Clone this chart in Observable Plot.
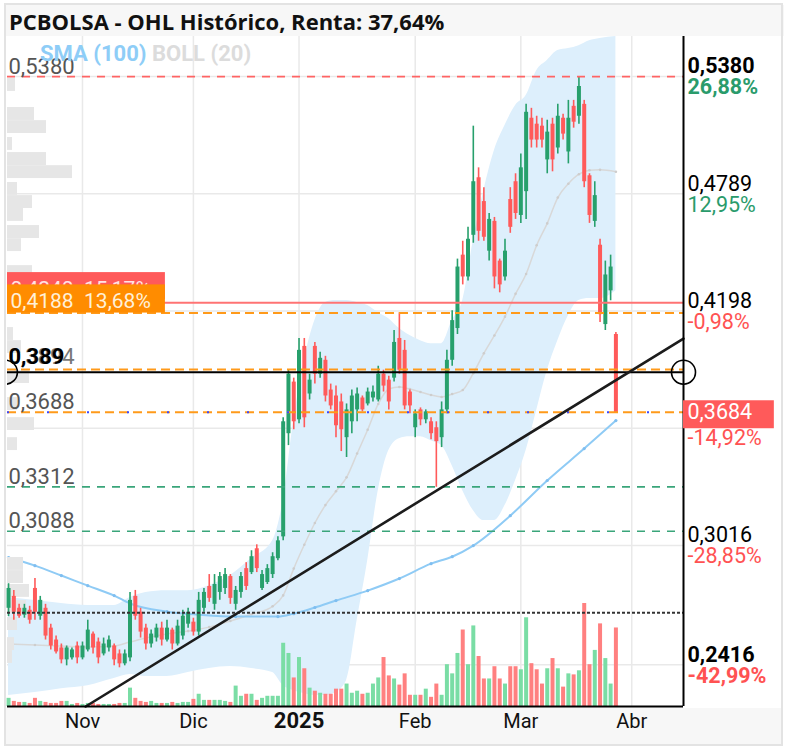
<!DOCTYPE html>
<html><head><meta charset="utf-8">
<script src="https://cdn.jsdelivr.net/npm/d3@7"></script>
<script src="https://cdn.jsdelivr.net/npm/@observablehq/plot@0.6"></script>
<style>
body{margin:0;background:#fff;font-family:Roboto,"Noto Sans",sans-serif;}
#wrap{position:relative;width:786px;height:748px;overflow:hidden;background:#fff;}
#border{position:absolute;left:4px;top:3px;width:779px;height:743px;box-sizing:border-box;border:2px solid #e3e3e3;}
#title{position:absolute;left:6px;top:5px;width:775px;height:31px;background:#f7f7f7;font-family:"Open Sans",Roboto,sans-serif;font-weight:bold;font-size:22px;color:#111;padding-left:3px;line-height:32px;white-space:nowrap;}
#band{position:absolute;left:6px;top:708px;width:775px;height:36px;background:#f7f7f7;}
#chart{position:absolute;left:0;top:36px;width:786px;height:712px;}
#chart svg{position:absolute;left:0;top:0;}
#legend{position:absolute;left:40px;top:42px;font-weight:bold;font-size:22px;white-space:nowrap;line-height:1.1;}
</style></head>
<body>
<div id="wrap">
  <div id="title">PCBOLSA - OHL Histórico, Renta: 37,64%</div>
  <div id="band"></div>
  <div id="chart"></div>
  <div id="legend"><span style="color:#8ecdf7">SMA (100)</span> <span style="color:#dcdcdc">BOLL (20)</span></div>
  <div id="border"></div>
</div>
<script>
// ---- daily OHLC (trading-day index 0 = 14 Oct 2024 ... 115 = 27 Mar 2025)
const open = [
0.2700,0.2760,0.2700,0.2665,0.2690,0.2800,0.2660,0.2700,0.2600,0.2540,
0.2500,0.2440,0.2450,0.2510,0.2450,0.2490,0.2570,0.2530,0.2470,0.2500,
0.2510,0.2470,0.2420,0.2450,0.2760,0.2680,0.2600,0.2520,0.2550,0.2600,
0.2540,0.2590,0.2520,0.2560,0.2620,0.2630,0.2580,0.2700,0.2810,0.2720,
0.2780,0.2800,0.2860,0.2720,0.2780,0.2900,0.2880,0.3000,0.2800,0.2830,
0.2870,0.2950,0.3060,0.3580,0.3840,0.3650,0.4020,0.3780,0.4020,0.3880,
0.3950,0.3800,0.3770,0.3740,0.3560,0.3640,0.3700,0.3760,0.3730,0.3760,
0.3750,0.3880,0.3850,0.3860,0.4060,0.4000,0.3790,0.3610,0.3700,0.3650,
0.3640,0.3610,0.3560,0.3700,0.3950,0.4110,0.4480,0.4370,0.4580,0.4870,
0.4750,0.4500,0.4650,0.4450,0.4370,0.4760,0.4850,0.4680,0.4800,0.5170,
0.5140,0.5130,0.4960,0.5140,0.5020,0.5170,0.5000,0.5230,0.5180,0.5240,
0.4880,0.4650,0.4530,0.4130,0.4300,0.4080];
const high = [
0.2824,0.2790,0.2720,0.2720,0.2710,0.2850,0.2760,0.2720,0.2620,0.2560,
0.2520,0.2510,0.2500,0.2530,0.2530,0.2640,0.2580,0.2550,0.2550,0.2560,
0.2520,0.2490,0.2490,0.2780,0.2790,0.2700,0.2620,0.2590,0.2620,0.2630,
0.2640,0.2600,0.2640,0.2690,0.2700,0.2650,0.2780,0.2800,0.2870,0.2870,
0.2880,0.2900,0.2870,0.2810,0.2880,0.2930,0.2990,0.3020,0.2890,0.2920,
0.2980,0.3060,0.3660,0.3900,0.3860,0.4060,0.4060,0.3880,0.4040,0.3990,
0.3970,0.3830,0.3820,0.3780,0.3730,0.3800,0.3810,0.3770,0.3810,0.3820,
0.3920,0.3900,0.3870,0.4100,0.4190,0.4050,0.3800,0.3700,0.3710,0.3700,
0.3660,0.3640,0.3740,0.4000,0.4200,0.4460,0.4550,0.4620,0.5130,0.4920,
0.4820,0.4690,0.4670,0.4460,0.4560,0.4820,0.4890,0.4990,0.5240,0.5220,
0.5180,0.5170,0.5160,0.5170,0.5240,0.5190,0.5260,0.5260,0.5380,0.5260,
0.4890,0.4850,0.4560,0.4450,0.4480,0.4090];
const low = [
0.2658,0.2640,0.2650,0.2650,0.2620,0.2640,0.2640,0.2540,0.2490,0.2470,
0.2420,0.2410,0.2440,0.2420,0.2440,0.2480,0.2470,0.2420,0.2460,0.2480,
0.2410,0.2400,0.2410,0.2430,0.2640,0.2550,0.2490,0.2500,0.2530,0.2510,
0.2530,0.2490,0.2510,0.2540,0.2600,0.2560,0.2560,0.2680,0.2730,0.2690,
0.2740,0.2770,0.2720,0.2690,0.2750,0.2790,0.2870,0.2880,0.2790,0.2820,
0.2850,0.2940,0.3040,0.3520,0.3600,0.3630,0.3610,0.3750,0.3830,0.3860,
0.3740,0.3700,0.3560,0.3490,0.3460,0.3580,0.3640,0.3690,0.3720,0.3740,
0.3740,0.3790,0.3700,0.3840,0.3880,0.3700,0.3680,0.3560,0.3620,0.3630,
0.3550,0.3310,0.3510,0.3680,0.3920,0.4080,0.4330,0.4350,0.4540,0.4550,
0.4550,0.4450,0.4310,0.4290,0.4350,0.4590,0.4660,0.4640,0.4660,0.5020,
0.5020,0.5020,0.4890,0.4900,0.4990,0.5060,0.4940,0.5120,0.5140,0.4820,
0.4640,0.4620,0.4140,0.4100,0.4250,0.3684];
const close = [
0.2800,0.2680,0.2660,0.2700,0.2640,0.2680,0.2740,0.2560,0.2510,0.2480,
0.2440,0.2500,0.2490,0.2450,0.2510,0.2590,0.2500,0.2450,0.2520,0.2540,
0.2440,0.2420,0.2470,0.2740,0.2660,0.2580,0.2520,0.2570,0.2600,0.2540,
0.2600,0.2520,0.2610,0.2660,0.2680,0.2580,0.2740,0.2780,0.2750,0.2820,
0.2860,0.2870,0.2750,0.2790,0.2860,0.2810,0.2960,0.2900,0.2870,0.2900,
0.2960,0.3040,0.3640,0.3880,0.3640,0.4000,0.3660,0.3850,0.3880,0.3960,
0.3770,0.3720,0.3620,0.3600,0.3700,0.3770,0.3780,0.3700,0.3790,0.3790,
0.3880,0.3820,0.3740,0.4040,0.3900,0.3720,0.3720,0.3680,0.3650,0.3690,
0.3580,0.3540,0.3700,0.3950,0.4150,0.4420,0.4370,0.4560,0.4850,0.4600,
0.4570,0.4660,0.4370,0.4330,0.4500,0.4620,0.4690,0.4920,0.5200,0.5060,
0.5060,0.5060,0.5100,0.4960,0.5180,0.5090,0.5170,0.5150,0.5330,0.4850,
0.4680,0.4780,0.4180,0.4380,0.4420,0.3684];
const volume = [
8,5,4,4,3,8,5,4,3,3,
5,5,2,3,2,3,3,2,2,2,
2,3,3,18,8,5,4,5,3,3,
3,4,3,4,4,7,12,6,6,6,
6,5,4,20,10,12,12,6,8,10,
10,10,62,52,28,48,37,18,15,13,
12,12,17,17,22,13,15,12,13,22,
28,48,30,27,21,32,11,11,11,17,
9,22,11,41,32,52,75,41,79,49,
27,27,39,27,22,39,39,36,87,42,
36,22,37,47,37,19,32,31,35,101,
41,55,81,47,22,77];

// ---- Bollinger (20)
const bandIdx = [0,5,10,15,20,23,26,30,34,38,42,46,50,52,54,56,58,60,62,64,66,68,70,72,74,76,78,80,82,84,86,88,90,92,94,96,98,100,102,104,106,108,110,112,115];
const bandUpper = [0.2754,0.2739,0.2724,0.2714,0.2714,0.2754,0.2779,0.2789,0.2789,0.2814,0.2865,0.2951,0.3041,0.3243,0.3646,0.3949,0.4150,0.4241,0.4251,0.4251,0.4241,0.4226,0.4190,0.4160,0.4110,0.4075,0.4049,0.4034,0.4034,0.4150,0.4251,0.4553,0.4805,0.5007,0.5133,0.5234,0.5284,0.5410,0.5461,0.5511,0.5521,0.5536,0.5561,0.5572,0.5582];
const bandMiddle = [0.2520,0.2515,0.2510,0.2505,0.2510,0.2530,0.2550,0.2570,0.2585,0.2605,0.2636,0.2670,0.2710,0.2765,0.2900,0.3020,0.3130,0.3220,0.3290,0.3360,0.3480,0.3600,0.3730,0.3805,0.3815,0.3805,0.3790,0.3775,0.3765,0.3780,0.3800,0.3885,0.3985,0.4075,0.4170,0.4285,0.4385,0.4530,0.4640,0.4770,0.4840,0.4888,0.4908,0.4910,0.4900];
const bandLower = [0.2260,0.2275,0.2295,0.2310,0.2346,0.2366,0.2356,0.2356,0.2376,0.2396,0.2406,0.2396,0.2376,0.2310,0.2285,0.2270,0.2260,0.2260,0.2275,0.2336,0.2638,0.2940,0.3293,0.3495,0.3555,0.3565,0.3565,0.3545,0.3520,0.3419,0.3293,0.3193,0.3142,0.3142,0.3218,0.3344,0.3495,0.3697,0.3898,0.4049,0.4175,0.4251,0.4261,0.4261,0.4301];

// ---- SMA (100)
const smaIdx = [0,5,10,15,20,23,30,36,43,51,54,58,62,68,74,80,84,88,95,102,109,115];
const smaVal = [0.2956,0.2915,0.2865,0.2814,0.2764,0.2724,0.2683,0.2668,0.2658,0.2658,0.2673,0.2704,0.2739,0.2789,0.2850,0.2925,0.2960,0.3016,0.3167,0.3344,0.3505,0.3646];

// ---- volume-at-price profile (bin top price, relative volume)
const profTop = [0.5370,0.5224,0.5158,0.5073,0.4997,0.4931,0.4846,0.4780,0.4715,0.4629,0.4563,0.4427,0.4362,0.4115,0.4049,0.3898,0.3762,0.3661,0.3560,0.2956,0.2890,0.2820,0.2739,0.2653,0.2552,0.2487];
const profVol = [8,27,39,5,39,65,10,25,16,32,14,25,30,6,14,22,10,27,10,16,16,22,19,10,7,5];
const profBin = 0.0065;

// ---- axis ticks
const tickIdx = [14,35,55,77,97,118];
const tickLabel = ["Nov","Dic","2025","Feb","Mar","Abr"];
const gridPrices = [0.5380,0.4789,0.4198,0.3607,0.3016,0.2416];

// ---- right scale labels
const rightPrice = [0.5380,0.4789,0.4198,0.3016,0.2416];
const rightText = ["0,5380","0,4789","0,4198","0,3016","0,2416"];
const rightPct = ["26,88%","12,95%","-0,98%","-28,85%","-42,99%"];
const rightBold = [true,false,false,false,true];
const lastPrice = 0.3684, lastText = "0,3684", lastPct = "-14,92%";

// ---- drawn levels
const redDashed = [0.5380];
const redSolid = [0.4240];
const orangeDashed = [0.4188,0.3904,0.3688];
const blackSolid = [0.389];
const greenDashed = [0.3312,0.3088];
const blackDotted = [0.2678];
const leftLevelText = [{v:0.5380,t:"0,5380"},{v:0.3688,t:"0,3688"},{v:0.3312,t:"0,3312"},{v:0.3088,t:"0,3088"}];
// trend line anchors (trading-day index, price)
const trendI = [14.6,127.8];
const trendV = [0.2205,0.4059];

// ---- build tables
const candles = open.map((o,i)=>({i,o,h:high[i],l:low[i],c:close[i],v:volume[i]}));
const band = bandIdx.map((i,k)=>({i,up:bandUpper[k],mid:bandMiddle[k],lo:bandLower[k]}));
const sma = smaIdx.map((i,k)=>({i,v:smaVal[k]}));
const profile = profTop.map((t,k)=>({hi:t,lo:t-profBin,w:profVol[k]}));
const ticks = tickIdx.map((i,k)=>({i,t:tickLabel[k]}));
const rightLabels = rightPrice.map((v,k)=>({v,t:rightText[k],p:rightPct[k],b:rightBold[k],col:rightPct[k].startsWith("-")?"#ff5252":"#2a9b6b"}));
const trend = trendI.map((i,k)=>({i,v:trendV[k]}));

const X_DOM = [-0.2,127.8], Y_DOM = [0.2205,0.5582];
const GREEN = "#27a06c", RED = "#ff5a5a";
const FONT = "Roboto, 'Noto Sans', sans-serif";
const base = (o)=>Object.assign({width:786,height:712,marginTop:0,marginBottom:42,marginLeft:7,marginRight:103,
  style:{background:"transparent",fontFamily:FONT,overflow:"visible"}},o);
const up = d=>d.c>=d.o;

const chart = document.getElementById("chart");

// Layer 1: grid, Bollinger, SMA
chart.append(Plot.plot(base({
  x:{domain:X_DOM,axis:null}, y:{domain:Y_DOM,axis:null},
  marks:[
    Plot.ruleX(tickIdx,{stroke:"#e9e9e9",strokeWidth:1.5}),
    Plot.ruleY(gridPrices,{stroke:"#e9e9e9",strokeWidth:1.5}),
    Plot.areaY(band,{x:"i",y1:"lo",y2:"up",fill:"#ddeffc",curve:"monotone-x",clip:true}),
    Plot.line(band,{x:"i",y:"mid",stroke:"#d8d8d8",strokeWidth:1.5,curve:"monotone-x"}),
    Plot.dot(band,{x:"i",y:"mid",r:1.3,fill:"#cdcdcd"}),
    Plot.line(sma,{x:"i",y:"v",stroke:"#8fcbf5",strokeWidth:2,curve:"monotone-x"}),
    Plot.dot(sma,{x:"i",y:"v",r:1.6,fill:"#7fbef0"})
  ]
})));

// Layer 2: volume profile
chart.append(Plot.plot(base({
  x:{domain:[0,100],range:[7,107],axis:null}, y:{domain:Y_DOM,axis:null},
  marks:[Plot.rect(profile,{x1:0,x2:"w",y1:"lo",y2:"hi",fill:"#e6e6e6"})]
})));

// Layer 3: volume bars
chart.append(Plot.plot(base({
  x:{domain:X_DOM,axis:null}, y:{domain:[0,100],range:[670,568],axis:null},
  marks:[Plot.ruleX(candles,{x:"i",y1:0,y2:"v",stroke:d=>up(d)?"#7adda5":"#ff8080",strokeWidth:4})]
})));

// Layer 4: candles, levels, labels
chart.append(Plot.plot(base({
  x:{domain:X_DOM,axis:null}, y:{domain:Y_DOM,axis:null},
  marks:[
    Plot.ruleX(candles,{x:"i",y1:"l",y2:"h",stroke:d=>up(d)?GREEN:RED,strokeWidth:1.6}),
    Plot.ruleX(candles,{x:"i",y1:"o",y2:"c",stroke:d=>up(d)?GREEN:RED,strokeWidth:4}),
    Plot.ruleY(blackDotted,{stroke:"#333",strokeWidth:2,strokeDasharray:"3,2"}),
    Plot.ruleY(greenDashed,{stroke:"#3aa57a",strokeWidth:1.6,strokeDasharray:"8,7"}),
    Plot.ruleY(redDashed,{stroke:"#ff6464",strokeWidth:1.6,strokeDasharray:"8,7"}),
    Plot.ruleY(redSolid,{stroke:"#ff7373",strokeWidth:2}),
    Plot.ruleY(orangeDashed,{stroke:"#ff9a1a",strokeWidth:2,strokeDasharray:"9,5"}),
    Plot.ruleY([orangeDashed[2]],{stroke:"#3b48ff",strokeWidth:2,strokeDasharray:"2,38"}),
    Plot.ruleY(blackSolid,{stroke:"#000",strokeWidth:2}),
    Plot.line(trend,{x:"i",y:"v",stroke:"#1c1c1c",strokeWidth:2.6}),
    Plot.ruleX([X_DOM[1]],{stroke:"#000",strokeWidth:2}),
    Plot.ruleY([Y_DOM[0]],{stroke:"#000",strokeWidth:2}),
    // left level label boxes
    Plot.rect([{x1:X_DOM[0],x2:29.7,y1:redSolid[0]+0.0015,y2:redSolid[0]+0.0152}],{x1:"x1",x2:"x2",y1:"y1",y2:"y2",fill:"#ff5a5a"}),
    Plot.text([{v:redSolid[0]}],{y:"v",text:()=>"0,4240\u00a0\u00a015,17%",frameAnchor:"left",textAnchor:"start",dx:3,dy:-13,fontSize:21,fill:"#ffe3e3"}),
    Plot.rect([{x1:X_DOM[0],x2:29.7,y1:orangeDashed[0],y2:orangeDashed[0]+0.0142}],{x1:"x1",x2:"x2",y1:"y1",y2:"y2",fill:"#ff8c00"}),
    Plot.text([{v:orangeDashed[0]}],{y:"v",text:()=>"0,4188\u00a0\u00a013,68%",frameAnchor:"left",textAnchor:"start",dx:3,dy:-12,fontSize:21,fill:"#fff0d8"}),
    // left level texts
    Plot.text(leftLevelText,{y:"v",text:"t",frameAnchor:"left",textAnchor:"start",dx:1,dy:-10,fontSize:22,fill:"#555"}),
    Plot.text([{v:blackSolid[0]}],{y:"v",text:()=>"0,3894",frameAnchor:"left",textAnchor:"start",dx:1,dy:-15,fontSize:22,fill:"#777"}),
    Plot.text([{v:blackSolid[0]}],{y:"v",text:()=>"0,389",frameAnchor:"left",textAnchor:"start",dx:1,dy:-15,fontSize:22,fontWeight:"bold",fill:"#000"}),
    // circles
    Plot.dot([{i:X_DOM[1],v:blackSolid[0]}],{x:"i",y:"v",r:12,stroke:"#000",strokeWidth:1.6,fill:"none"}),
    Plot.dot([{i:-0.6,v:blackSolid[0]}],{x:"i",y:"v",r:12,stroke:"#000",strokeWidth:1.6,fill:"none",clip:true}),
    // right scale labels
    Plot.text(rightLabels.filter(d=>d.b),{y:"v",text:"t",frameAnchor:"right",textAnchor:"start",dx:4,dy:-10,fontSize:21.5,fontWeight:"bold",fill:"#000"}),
    Plot.text(rightLabels.filter(d=>!d.b),{y:"v",text:"t",frameAnchor:"right",textAnchor:"start",dx:4,dy:-10,fontSize:21.5,fill:"#000"}),
    Plot.text(rightLabels.filter(d=>d.b),{y:"v",text:"p",frameAnchor:"right",textAnchor:"start",dx:4,dy:11,fontSize:21.5,fontWeight:"bold",fill:"col"}),
    Plot.text(rightLabels.filter(d=>!d.b),{y:"v",text:"p",frameAnchor:"right",textAnchor:"start",dx:4,dy:11,fontSize:21.5,fill:"col"}),
    Plot.rect([{x1:X_DOM[1],x2:145,y1:lastPrice-0.0079,y2:lastPrice+0.0062}],{x1:"x1",x2:"x2",y1:"y1",y2:"y2",fill:"#ff5a5a"}),
    Plot.text([{v:lastPrice}],{y:"v",text:()=>lastText,frameAnchor:"right",textAnchor:"start",dx:4,dy:-1,fontSize:21.5,fill:"#fff"}),
    Plot.text([{v:lastPrice}],{y:"v",text:()=>lastPct,frameAnchor:"right",textAnchor:"start",dx:4,dy:25,fontSize:21.5,fill:"#ff5252"}),
    // x axis labels
    Plot.text(ticks.filter(d=>d.t!=="2025"),{x:"i",text:"t",frameAnchor:"bottom",dy:21,fontSize:20,fill:"#111"}),
    Plot.text(ticks.filter(d=>d.t==="2025"),{x:"i",text:"t",frameAnchor:"bottom",dy:21,fontSize:22,fontWeight:"bold",fill:"#111"})
  ]
})));
</script>
</body></html>
